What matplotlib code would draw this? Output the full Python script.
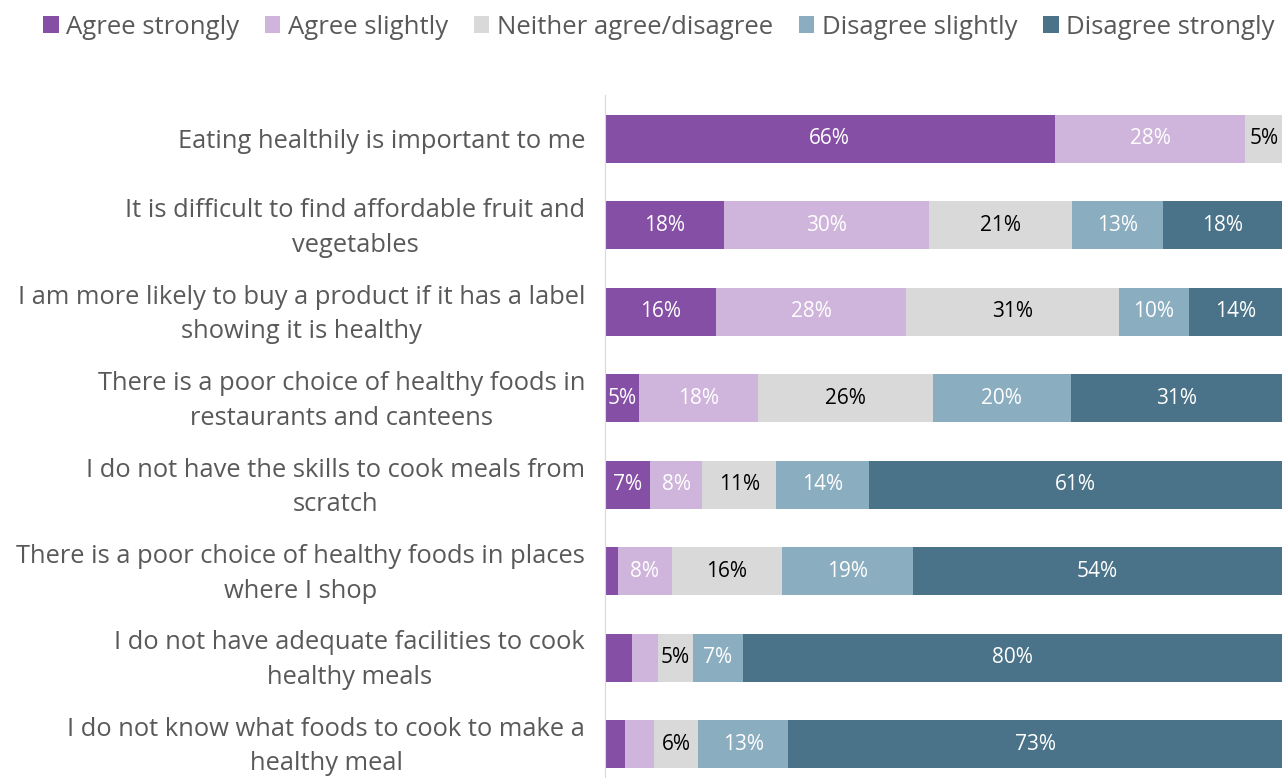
import numpy as np
import matplotlib.pyplot as plt
from matplotlib.patches import Patch
from matplotlib.transforms import blended_transform_factory

categories = [
    'Eating healthily is important to me',
    'It is difficult to find affordable fruit and\nvegetables',
    'I am more likely to buy a product if it has a label\nshowing it is healthy',
    'There is a poor choice of healthy foods in\nrestaurants and canteens',
    'I do not have the skills to cook meals from\nscratch',
    'There is a poor choice of healthy foods in places\nwhere I shop',
    'I do not have adequate facilities to cook\nhealthy meals',
    'I do not know what foods to cook to make a\nhealthy meal',
]
series = ['Agree strongly', 'Agree slightly', 'Neither agree/disagree',
          'Disagree slightly', 'Disagree strongly']
# percentages
agree_strongly = [66.4, 17.6, 16.4, 5.0, 6.6, 1.9, 4.0, 3.0]
agree_slightly = [28.2, 30.3, 28.1, 17.6, 7.8, 8.0, 3.8, 4.3]
neither = [5.4, 21.1, 31.4, 25.8, 10.9, 16.2, 5.2, 6.4]
disagree_slightly = [0.0, 13.4, 10.3, 20.4, 13.7, 19.4, 7.4, 13.4]
disagree_strongly = [0.0, 17.6, 13.8, 31.2, 61.0, 54.5, 79.6, 72.9]

colors = ['#854FA6', '#CFB5DB', '#D9D9D9', '#8AADBF', '#4A7389']
text_colors = ['white', 'white', 'black', 'white', 'white']

plt.rcParams['font.family'] = ['Open Sans', 'DejaVu Sans']

fig = plt.figure(figsize=(12.82, 7.78), dpi=100)
ax = fig.add_axes([605 / 1282, 0, 1 - 605 / 1282, 683 / 778])

data = [agree_strongly, agree_slightly, neither, disagree_slightly, disagree_strongly]
y = np.arange(len(categories))
left = np.zeros(len(categories))
for vals, col, tcol in zip(data, colors, text_colors):
    vals = np.array(vals, dtype=float)
    ax.barh(y, vals, left=left, height=0.555, color=col)
    for yi, v, l in zip(y, vals, left):
        if v >= 4.5:
            ax.text(l + v / 2, yi, f'{round(v)}%', ha='center', va='center',
                    color=tcol, fontsize=15, clip_on=True)
    left += vals

ax.set_xlim(0, 100)
ax.set_ylim(7.393, -0.509)
ax.set_yticks([])
ax.set_xticks([])

# category labels drawn by hand so multi-line ones centre on the bar
trans = blended_transform_factory(ax.transAxes, ax.transData)
for yi, cat in zip(y, categories):
    ax.text(-20 / 677, yi + 0.03, cat, transform=trans, ha='right', va='center',
            multialignment='center', linespacing=1.5, fontsize=18.4,
            color='#595959')

for s in ['top', 'right', 'bottom']:
    ax.spines[s].set_visible(False)
ax.spines['left'].set_color('#D9D9D9')

handles = [Patch(facecolor=c, edgecolor='none') for c in colors]
fig.legend(handles, series, loc='center', bbox_to_anchor=(659 / 1282, 1 - 27 / 778),
           ncol=5, frameon=False, fontsize=18.5, labelcolor='#595959',
           handlelength=0.6, handleheight=0.6, handletextpad=0.3,
           columnspacing=1.0, borderpad=0)

fig.savefig('out.png', dpi=100)
